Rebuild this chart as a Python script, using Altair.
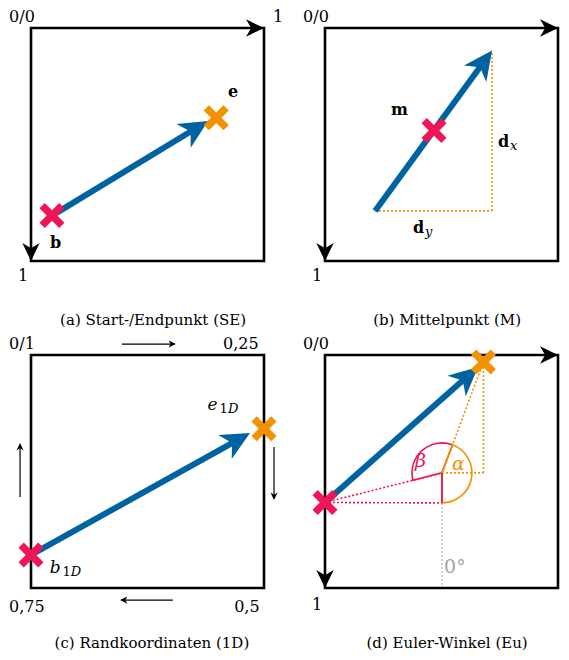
import altair as alt
import numpy as np
import pandas as pd

# ---------------- layout (pixel frame of each sub-figure) ----------------
PANEL_X = {"a": 31, "b": 325, "c": 31, "d": 325}
PANEL_Y = {"a": 28, "b": 28, "c": 355, "d": 355}
SIDE = 233

BLUE = "#0063a1"
RED = "#ef1557"
ORANGE = "#f39200"
GRAY = "#a3a3a3"
FONT = "DejaVu Serif"

# ---------------- data (unit coordinates inside each square, y downward) ----------------
frame_panels = ["a", "b", "c", "d"]
axis_arrow_panels = ["a", "b", "d"]

cross_panel = ["a", "a", "b", "c", "c", "d", "d"]
cross_u = [0.09, 0.795, 0.468, 0.0, 1.0, 0.0, 0.68]
cross_v = [0.805, 0.385, 0.44, 0.858, 0.317, 0.633, 0.03]
cross_kind = ["start", "end", "start", "start", "end", "start", "end"]

arrow_panel = ["a", "b", "c", "d"]
arrow_u0 = [0.09, 0.215, 0.0, 0.0]
arrow_v0 = [0.805, 0.785, 0.858, 0.633]
arrow_u1 = [0.76, 0.717, 0.94, 0.657]
arrow_v1 = [0.399, 0.097, 0.335, 0.0515]

small_u0 = [0.39, 0.609, -0.047, 1.043]
small_v0 = [-0.047, 1.052, 0.609, 0.395]
small_u1 = [0.622, 0.382, -0.047, 1.043]
small_v1 = [-0.047, 1.052, 0.378, 0.622]

# dotted helper lines
dot_panel = ["b", "b", "d", "d", "d", "d", "d", "d"]
dot_u0 = [0.215, 0.717, 0.502, 0.502, 0.68, 0.0, 0.0, 0.502]
dot_v0 = [0.785, 0.785, 0.506, 0.506, 0.506, 0.633, 0.633, 0.635]
dot_u1 = [0.717, 0.717, 0.68, 0.68, 0.68, 0.502, 0.502, 0.502]
dot_v1 = [0.785, 0.097, 0.03, 0.506, 0.03, 0.506, 0.635, 1.0]
dot_kind = ["orange", "orange", "orange", "orange", "orange", "red", "red", "gray"]

# Euler angle construction in panel d
angle_center_u = 0.502
angle_center_v = 0.506
angle_radius = 30

# texts: (text, panel, u, v, size, colour)
normal_text = ["0/0", "1", "1", "0/0", "1", "1", "0/1", "0,25", "0,75", "0,5",
               "0/0", "1", "1", "1", "1", "0°"]
normal_panel = ["a", "a", "a", "b", "b", "b", "c", "c", "c", "c",
                "d", "d", "d", "c", "c", "d"]
normal_u = [-0.094, 1.039, -0.056, -0.094, 1.039, -0.056, -0.094, 0.824, -0.094, 0.872,
            -0.094, 1.039, -0.056, 0.809, 0.135, 0.511]
normal_v = [-0.026, -0.024, 1.086, -0.026, -0.024, 1.086, -0.024, -0.024, 1.103, 1.103,
            -0.024, -0.034, 1.094, 0.249, 0.948, 0.936]
normal_size = [16] * 13 + [13, 13, 19]
normal_color = ["black"] * 15 + ["gray"]

bold_text = ["b", "e", "m", "d", "d"]
bold_panel = ["a", "a", "b", "b", "b"]
bold_u = [0.082, 0.845, 0.283, 0.742, 0.378]
bold_v = [0.944, 0.296, 0.373, 0.511, 0.88]
bold_size = [16, 16, 16, 16, 16]

italic_text = ["x", "y", "e", "D", "b", "D", "β", "α"]
italic_panel = ["b", "b", "c", "c", "c", "c", "d", "d"]
italic_u = [0.794, 0.429, 0.758, 0.845, 0.080, 0.171, 0.386, 0.545]
italic_v = [0.524, 0.893, 0.236, 0.249, 0.936, 0.948, 0.481, 0.494]
italic_size = [13, 13, 17, 13, 17, 13, 19, 19]
italic_color = ["black", "black", "black", "black", "black", "black", "red", "orange"]

caption_text = ["(a) Start-/Endpunkt (SE)", "(b) Mittelpunkt (M)",
                "(c) Randkoordinaten (1D)", "(d) Euler-Winkel (Eu)"]
caption_panel = ["a", "b", "c", "d"]
caption_u = [0.524, 0.524, 0.519, 0.524]
caption_v = [1.275, 1.275, 1.258, 1.258]

COLORS = {"black": "black", "gray": GRAY, "red": RED, "orange": ORANGE,
          "start": RED, "end": ORANGE}

HEAD = "M0,0 L1.35,2.8 L0,2.0 L-1.35,2.8 Z"
XSHAPE = ("M-1,-0.58 L-0.58,-1 L0,-0.42 L0.58,-1 L1,-0.58 L0.42,0 "
          "L1,0.58 L0.58,1 L0,0.42 L-0.58,1 L-1,0.58 L-0.42,0 Z")


def gx(p, u):
    return PANEL_X[p] + u * SIDE


def gy(p, v):
    return PANEL_Y[p] + v * SIDE


def heading(dx, dy):
    return float(np.degrees(np.arctan2(dx, -dy)))


# ---------------- tables ----------------
frames = pd.DataFrame({
    "x": [gx(p, 0) for p in frame_panels], "x2": [gx(p, 1) for p in frame_panels],
    "y": [gy(p, 0) for p in frame_panels], "y2": [gy(p, 1) for p in frame_panels],
})

ax_rows = []
for p in axis_arrow_panels:
    ax_rows.append({"x": gx(p, 1), "y": gy(p, 0), "ang": 90.0})
    ax_rows.append({"x": gx(p, 0), "y": gy(p, 1), "ang": 180.0})
axis_heads = pd.DataFrame(ax_rows)

sh_rows, hd_rows = [], []
for p, u0, v0, u1, v1 in zip(arrow_panel, arrow_u0, arrow_v0, arrow_u1, arrow_v1):
    x0, y0, x1, y1 = gx(p, u0), gy(p, v0), gx(p, u1), gy(p, v1)
    L = np.hypot(x1 - x0, y1 - y0)
    ux, uy = (x1 - x0) / L, (y1 - y0) / L
    sh_rows.append({"x": x0, "y": y0, "x2": x1 - 16 * ux, "y2": y1 - 16 * uy})
    hd_rows.append({"x": x1, "y": y1, "ang": heading(ux, uy)})
shafts = pd.DataFrame(sh_rows)
heads = pd.DataFrame(hd_rows)

ss_rows, sh2_rows = [], []
for u0, v0, u1, v1 in zip(small_u0, small_v0, small_u1, small_v1):
    x0, y0, x1, y1 = gx("c", u0), gy("c", v0), gx("c", u1), gy("c", v1)
    L = np.hypot(x1 - x0, y1 - y0)
    ux, uy = (x1 - x0) / L, (y1 - y0) / L
    ss_rows.append({"x": x0, "y": y0, "x2": x1 - 3 * ux, "y2": y1 - 3 * uy})
    sh2_rows.append({"x": x1, "y": y1, "ang": heading(ux, uy)})
small_shafts = pd.DataFrame(ss_rows)
small_heads = pd.DataFrame(sh2_rows)

dots = pd.DataFrame({
    "x": [gx(p, u) for p, u in zip(dot_panel, dot_u0)],
    "y": [gy(p, v) for p, v in zip(dot_panel, dot_v0)],
    "x2": [gx(p, u) for p, u in zip(dot_panel, dot_u1)],
    "y2": [gy(p, v) for p, v in zip(dot_panel, dot_v1)],
    "c": [COLORS[k] for k in dot_kind], "kind": dot_kind,
})

crosses = pd.DataFrame({
    "x": [gx(p, u) for p, u in zip(cross_panel, cross_u)],
    "y": [gy(p, v) for p, v in zip(cross_panel, cross_v)],
    "c": [COLORS[k] for k in cross_kind],
})

# arcs in panel d
cx, cy = gx("d", angle_center_u), gy("d", angle_center_v)
ex, ey = gx("d", cross_u[6]), gy("d", cross_v[6])
bx, by = gx("d", cross_u[5]), gy("d", cross_v[5])
t_e = float(np.arctan2(ex - cx, -(ey - cy)))
t_b = float(np.arctan2(bx - cx, -(by - cy))) % (2 * np.pi)
arcs = pd.DataFrame({
    "x": [cx, cx], "y": [cy, cy],
    "t0": [t_b, t_e], "t1": [2 * np.pi + t_e, np.pi],
    "c": [RED, ORANGE],
})
radial = pd.DataFrame({"x": [cx], "y": [cy], "x2": [cx], "y2": [cy + angle_radius]})


def text_df(texts, panels, us, vs, sizes, colors):
    return pd.DataFrame({
        "t": texts,
        "x": [gx(p, u) for p, u in zip(panels, us)],
        "y": [gy(p, v) for p, v in zip(panels, vs)],
        "s": sizes, "c": [COLORS[c] for c in colors],
    })


t_normal = text_df(normal_text, normal_panel, normal_u, normal_v, normal_size, normal_color)
t_bold = text_df(bold_text, bold_panel, bold_u, bold_v, bold_size, ["black"] * len(bold_text))
t_italic = text_df(italic_text, italic_panel, italic_u, italic_v, italic_size, italic_color)
t_caption = text_df(caption_text, caption_panel, caption_u, caption_v, [15] * 4, ["black"] * 4)

# ---------------- encodings ----------------
XS = alt.Scale(domain=[8, 561], nice=False, zero=False)
YS = alt.Scale(domain=[8, 652], nice=False, zero=False, reverse=True)
X = alt.X("x:Q", scale=XS, axis=None)
Y = alt.Y("y:Q", scale=YS, axis=None)
X2 = alt.X2("x2:Q")
Y2 = alt.Y2("y2:Q")

frame_layer = alt.Chart(frames).mark_rect(
    fillOpacity=0, stroke="black", strokeWidth=2.6).encode(x=X, x2=X2, y=Y, y2=Y2)

axis_head_layer = alt.Chart(axis_heads).mark_point(
    shape=HEAD, filled=True, color="black", size=165, opacity=1, strokeWidth=0
).encode(x=X, y=Y, angle=alt.Angle("ang:Q", scale=None))

dot_layer = alt.Chart(dots[dots.kind != "gray"]).mark_rule(
    strokeWidth=1.6, strokeDash=[2, 2]
).encode(x=X, y=Y, x2=X2, y2=Y2, color=alt.Color("c:N", scale=None))

gray_layer = alt.Chart(dots[dots.kind == "gray"]).mark_rule(
    strokeWidth=1, strokeDash=[2, 2]
).encode(x=X, y=Y, x2=X2, y2=Y2, color=alt.Color("c:N", scale=None))

arc_layer = alt.Chart(arcs).mark_arc(
    radius=angle_radius, fillOpacity=0, strokeWidth=1.6
).encode(
    x=X, y=Y,
    theta=alt.Theta("t0:Q", scale=None, stack=False),
    theta2=alt.Theta2("t1:Q"),
    stroke=alt.Color("c:N", scale=None),
)

radial_layer = alt.Chart(radial).mark_rule(strokeWidth=1.8, color=RED).encode(
    x=X, y=Y, x2=X2, y2=Y2)

shaft_layer = alt.Chart(shafts).mark_rule(strokeWidth=6, color=BLUE).encode(
    x=X, y=Y, x2=X2, y2=Y2)
head_layer = alt.Chart(heads).mark_point(
    shape=HEAD, filled=True, color=BLUE, size=420, opacity=1, strokeWidth=0
).encode(x=X, y=Y, angle=alt.Angle("ang:Q", scale=None))

small_shaft_layer = alt.Chart(small_shafts).mark_rule(strokeWidth=1.2, color="black").encode(
    x=X, y=Y, x2=X2, y2=Y2)
small_head_layer = alt.Chart(small_heads).mark_point(
    shape=HEAD, filled=True, color="black", size=28, opacity=1, strokeWidth=0
).encode(x=X, y=Y, angle=alt.Angle("ang:Q", scale=None))

cross_layer = alt.Chart(crosses).mark_point(
    shape=XSHAPE, filled=True, size=625, opacity=1, strokeWidth=0
).encode(x=X, y=Y, color=alt.Color("c:N", scale=None))


def text_layer(df, **kw):
    return alt.Chart(df).mark_text(font=FONT, baseline="alphabetic", **kw).encode(
        x=X, y=Y, text="t:N",
        size=alt.Size("s:Q", scale=None),
        color=alt.Color("c:N", scale=None),
    )


normal_layer = text_layer(t_normal, align="left")
bold_layer = text_layer(t_bold, align="left", fontWeight="bold")
italic_layer = text_layer(t_italic, align="left", fontStyle="italic")
caption_layer = text_layer(t_caption, align="center")

chart = alt.layer(
    gray_layer, dot_layer, arc_layer, radial_layer,
    frame_layer, axis_head_layer,
    small_shaft_layer, small_head_layer,
    shaft_layer, head_layer, cross_layer,
    normal_layer, bold_layer, italic_layer, caption_layer,
).properties(
    width=553, height=644,
    autosize=alt.AutoSizeParams(type="none"),
    padding=0,
).configure_view(strokeWidth=0)

chart.save("out.html", embed_options={"renderer": "svg", "actions": False})
